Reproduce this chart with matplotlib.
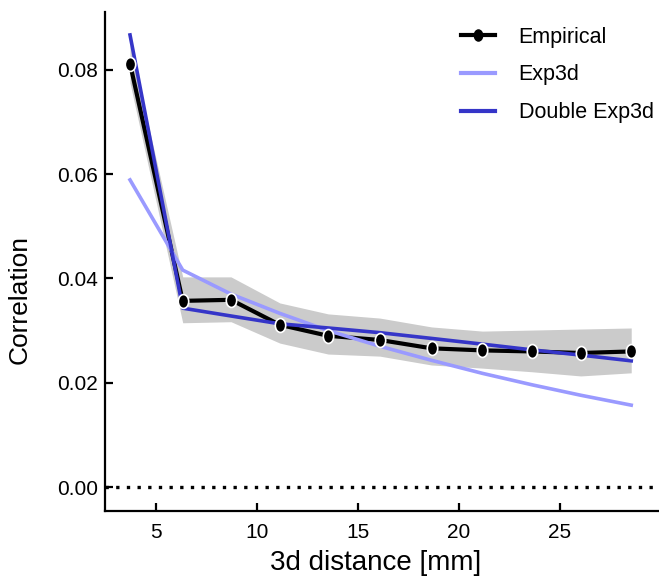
import matplotlib
matplotlib.use("Agg")
import matplotlib.pyplot as plt
from matplotlib.path import Path
from matplotlib.transforms import Affine2D

plt.rcParams['font.family'] = ['Liberation Sans', 'DejaVu Sans']

# binned 3d distances (mm) and correlations
distance = [3.73, 6.34, 8.73, 11.15, 13.54, 16.10, 18.66, 21.18, 23.64, 26.05, 28.55]
empirical = [0.0812, 0.0357, 0.0359, 0.0311, 0.0290, 0.0282, 0.0266, 0.0262, 0.0260, 0.0257, 0.0260]
ci_low = [0.0775, 0.0315, 0.0317, 0.0276, 0.0255, 0.0251, 0.0234, 0.0228, 0.0221, 0.0213, 0.0219]
ci_high = [0.0850, 0.0403, 0.0403, 0.0353, 0.0332, 0.0324, 0.0307, 0.0299, 0.0301, 0.0303, 0.0305]
exp3d = [0.0589, 0.0416, 0.0370, 0.0333, 0.0300, 0.0270, 0.0243, 0.0218, 0.0196, 0.0176, 0.0157]
double_exp3d = [0.0867, 0.0343, 0.0328, 0.0313, 0.0305, 0.0296, 0.0285, 0.0274, 0.0263, 0.0253, 0.0242]

c_exp = "#9a9aff"
c_dbl = "#3535c8"

# slightly tall oval marker
oval = Path.unit_circle().transformed(Affine2D().scale(0.75, 1.0))

fig = plt.figure(figsize=(6.59, 5.77), dpi=100)
ax = fig.add_axes([0.1593, 0.1144, 0.839, 0.8648])

ax.fill_between(distance, ci_low, ci_high, color="#cbcbcb", lw=0, zorder=1)
ax.axhline(0, color="black", lw=2.4, ls=(0, (1, 2.2)), zorder=1)

ax.plot(distance, empirical, color="black", lw=3, zorder=2)
ax.plot(distance, exp3d, color=c_exp, lw=2.6, zorder=3)
ax.plot(distance, double_exp3d, color=c_dbl, lw=2.6, zorder=4)
ax.plot(distance, empirical, ls="none", marker=oval, ms=10, mfc="black",
        mec="white", mew=1.2, zorder=5)

# legend proxies
h_emp, = ax.plot([], [], color="black", lw=3, marker=oval, ms=8, mfc="black", mec="black")
h_exp, = ax.plot([], [], color=c_exp, lw=3)
h_dbl, = ax.plot([], [], color=c_dbl, lw=3)
ax.legend([h_emp, h_exp, h_dbl], ["Empirical", "Exp3d", "Double Exp3d"],
          loc="upper right", frameon=False, fontsize=15.5, handlelength=1.6,
          handletextpad=1.1, labelspacing=0.78, borderaxespad=0.0,
          bbox_to_anchor=(1.008, 0.988))

ax.set_xlim(2.49, 29.87)
ax.set_ylim(-0.0046, 0.0911)
ax.set_xticks([5, 10, 15, 20, 25])
ax.set_yticks([0.0, 0.02, 0.04, 0.06, 0.08])
ax.set_yticklabels(["0.00", "0.02", "0.04", "0.06", "0.08"])

for side in ("top", "right"):
    ax.spines[side].set_visible(False)
for side in ("left", "bottom"):
    ax.spines[side].set_linewidth(1.6)

ax.tick_params(axis="both", direction="in", length=6, width=1.6, labelsize=15)
ax.tick_params(axis="x", pad=9)
ax.tick_params(axis="y", pad=5)

ax.set_xlabel("3d distance [mm]", fontsize=20)
ax.set_ylabel("Correlation", fontsize=19)
ax.xaxis.set_label_coords(0.49, -0.079, transform=ax.transAxes)
ax.yaxis.set_label_coords(-0.132, 0.423, transform=ax.transAxes)

fig.savefig("out.png", dpi=100)
